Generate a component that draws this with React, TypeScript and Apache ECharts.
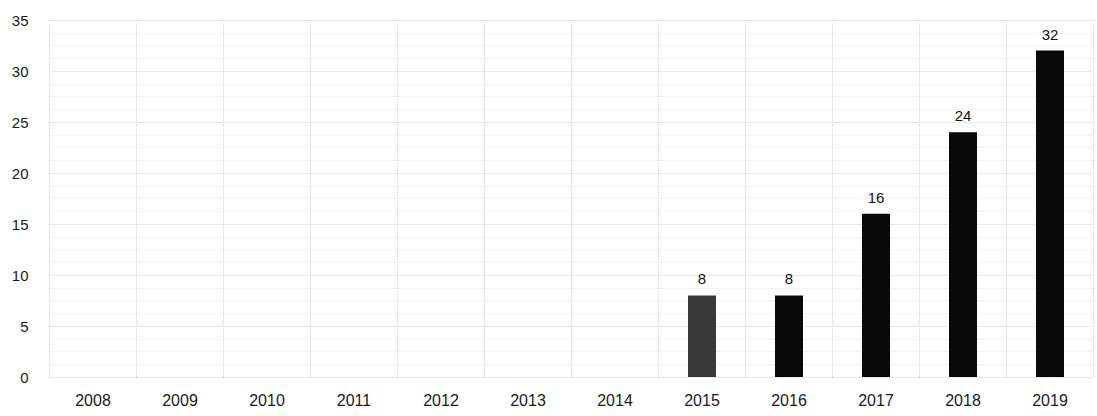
import React, { useEffect, useRef } from "react";
import * as echarts from "echarts";

const years = ["2008", "2009", "2010", "2011", "2012", "2013", "2014", "2015", "2016", "2017", "2018", "2019"];
const counts = [null, null, null, null, null, null, null, 8, 8, 16, 24, 32];
const barColors = ["#111", "#111", "#111", "#111", "#111", "#111", "#111", "#3a3a3a", "#0a0a0a", "#0a0a0a", "#0a0a0a", "#0a0a0a"];

export default function App() {
  const ref = useRef<HTMLDivElement>(null);
  useEffect(() => {
    if (!ref.current) return;
    const chart = echarts.init(ref.current, undefined, { renderer: "svg" });
    chart.setOption({
      animation: false,
      backgroundColor: "#ffffff",
      grid: { left: 49.5, right: 3.5, top: 20, bottom: 39, containLabel: false },
      xAxis: {
        type: "category",
        data: years,
        axisLine: { show: false },
        axisTick: { show: false },
        axisLabel: { color: "#1a1a1a", fontSize: 16, fontFamily: "Liberation Sans, Arial, sans-serif", margin: 15 },
        splitLine: { show: true, lineStyle: { color: "#d4d4d4", type: "dotted", width: 1 } },
      },
      yAxis: {
        type: "value",
        min: 0,
        max: 35,
        interval: 5,
        axisLine: { show: false },
        axisTick: { show: false },
        axisLabel: { color: "#1a1a1a", fontSize: 15, fontFamily: "Liberation Sans, Arial, sans-serif", margin: 21 },
        splitLine: { show: true, lineStyle: { color: "#d4d4d4", type: "dotted", width: 1 } },
        minorTick: { show: false, splitNumber: 4 },
        minorSplitLine: { show: true, lineStyle: { color: "#e6e6e6", type: "dotted", width: 1 } },
      },
      series: [
        {
          type: "bar",
          data: counts.map((v, i) => (v == null ? null : { value: v, itemStyle: { color: barColors[i] } })),
          barWidth: 28,
          label: {
            show: true,
            position: "top",
            distance: 9,
            color: "#111",
            fontSize: 15,
            fontFamily: "Liberation Sans, Arial, sans-serif",
          },
        },
      ],
    });
    return () => chart.dispose();
  }, []);
  return <div ref={ref} style={{ position: "fixed", left: 0, top: 0, width: 1097, height: 416 }} />;
}
